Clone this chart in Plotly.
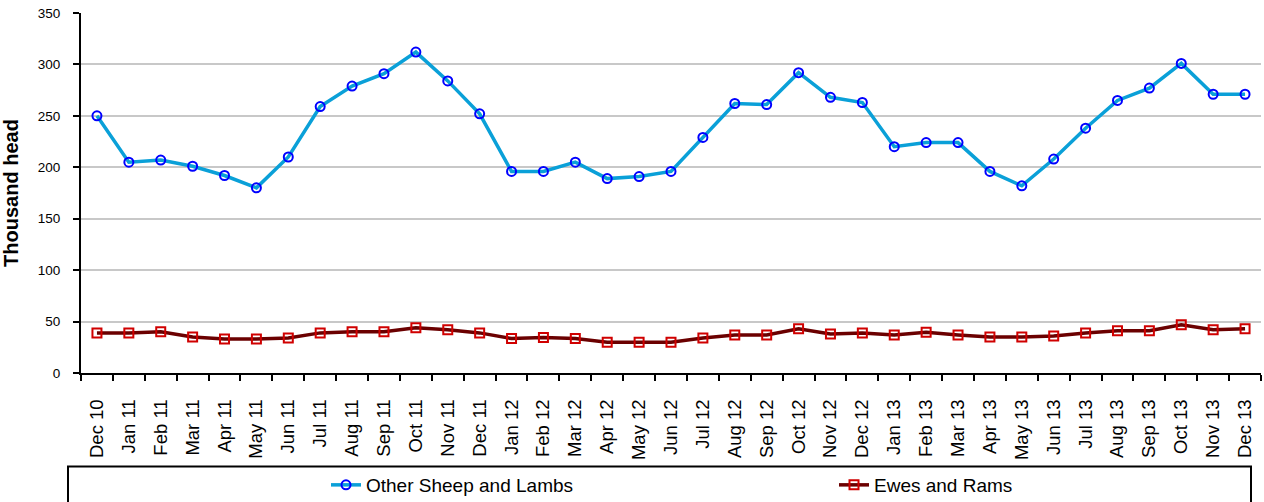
import plotly.graph_objects as go

months = ["Dec 10", "Jan 11", "Feb 11", "Mar 11", "Apr 11", "May 11", "Jun 11", "Jul 11",
          "Aug 11", "Sep 11", "Oct 11", "Nov 11", "Dec 11", "Jan 12", "Feb 12", "Mar 12",
          "Apr 12", "May 12", "Jun 12", "Jul 12", "Aug 12", "Sep 12", "Oct 12", "Nov 12",
          "Dec 12", "Jan 13", "Feb 13", "Mar 13", "Apr 13", "May 13", "Jun 13", "Jul 13",
          "Aug 13", "Sep 13", "Oct 13", "Nov 13", "Dec 13"]

other_sheep_lambs = [250, 205, 207, 201, 192, 180, 210, 259, 279, 291, 312, 284, 252,
                     196, 196, 205, 189, 191, 196, 229, 262, 261, 292, 268, 263,
                     220, 224, 224, 196, 182, 208, 238, 265, 277, 301, 271, 271]

ewes_rams = [39, 39, 40, 35, 33, 33, 34, 39, 40, 40, 44, 42, 39,
             33.5, 34.5, 33.5, 30, 30, 30, 34, 37, 37, 43, 38, 39,
             37, 39.5, 37, 35, 35, 36, 39, 41, 41, 47, 42, 43]

y_ticks = [0, 50, 100, 150, 200, 250, 300, 350]

FONT = "Liberation Sans, Arial, sans-serif"

fig = go.Figure()
fig.add_trace(go.Scatter(
    x=months, y=other_sheep_lambs, name="Other Sheep and Lambs",
    mode="lines+markers",
    line=dict(color="#0AA0D8", width=3.5),
    marker=dict(symbol="circle-open", size=9, color="#0000FF", line=dict(width=2, color="#0000FF")),
))
fig.add_trace(go.Scatter(
    x=months, y=ewes_rams, name="Ewes and Rams",
    mode="lines+markers",
    line=dict(color="#6B0000", width=3.5),
    marker=dict(symbol="square-open", size=9, color="#D00000", line=dict(width=2, color="#D00000")),
))

W, H = 1264, 502
L, R, T, B = 81, 3, 13, 129
pw = W - L - R
ph = H - T - B

def px_to_paper_x(px):
    return (px - L) / pw

def px_to_paper_y(py):
    return (H - B - py) / ph

fig.add_shape(type="rect", xref="paper", yref="paper",
              x0=px_to_paper_x(68), x1=px_to_paper_x(1251),
              y0=px_to_paper_y(520), y1=px_to_paper_y(466.5),
              line=dict(color="black", width=2), fillcolor="rgba(0,0,0,0)")

fig.update_layout(
    width=W, height=H,
    margin=dict(l=L, r=R, t=T, b=B, autoexpand=False),
    plot_bgcolor="white", paper_bgcolor="white",
    font=dict(family=FONT, color="black"),
    showlegend=True,
    legend=dict(
        orientation="h", xref="container", yref="container",
        x=326 / W, y=1 - 485 / H, xanchor="left", yanchor="middle",
        font=dict(size=19, family=FONT, color="black"),
        entrywidth=463, entrywidthmode="pixels",
        bgcolor="rgba(0,0,0,0)", borderwidth=0,
    ),
    xaxis=dict(
        type="category", tickangle=-90, tickson="boundaries",
        ticks="outside", ticklen=6, tickwidth=1.5, tickcolor="black",
        showline=True, linecolor="black", linewidth=2,
        showgrid=False, tickfont=dict(size=18.5, family=FONT, color="black"),
        ticklabelstandoff=17,
        range=[-0.5, len(months) - 0.5],
    ),
    yaxis=dict(
        range=[0, 350], tickvals=y_ticks, ticks="outside", ticklen=6,
        tickwidth=1.5, tickcolor="black",
        showline=True, linecolor="black", linewidth=2,
        showgrid=True, gridcolor="#C8C8C8", gridwidth=1.5,
        zeroline=False,
        tickfont=dict(size=13.5, family=FONT, color="black"),
        ticklabelstandoff=10,
        title=dict(text="<b>Thousand head</b>", font=dict(size=20, family=FONT, color="black"), standoff=18),
    ),
)

fig.write_html("out.html", config={"displayModeBar": False},
               post_script="document.body.style.margin='0';document.body.style.padding='0';")
